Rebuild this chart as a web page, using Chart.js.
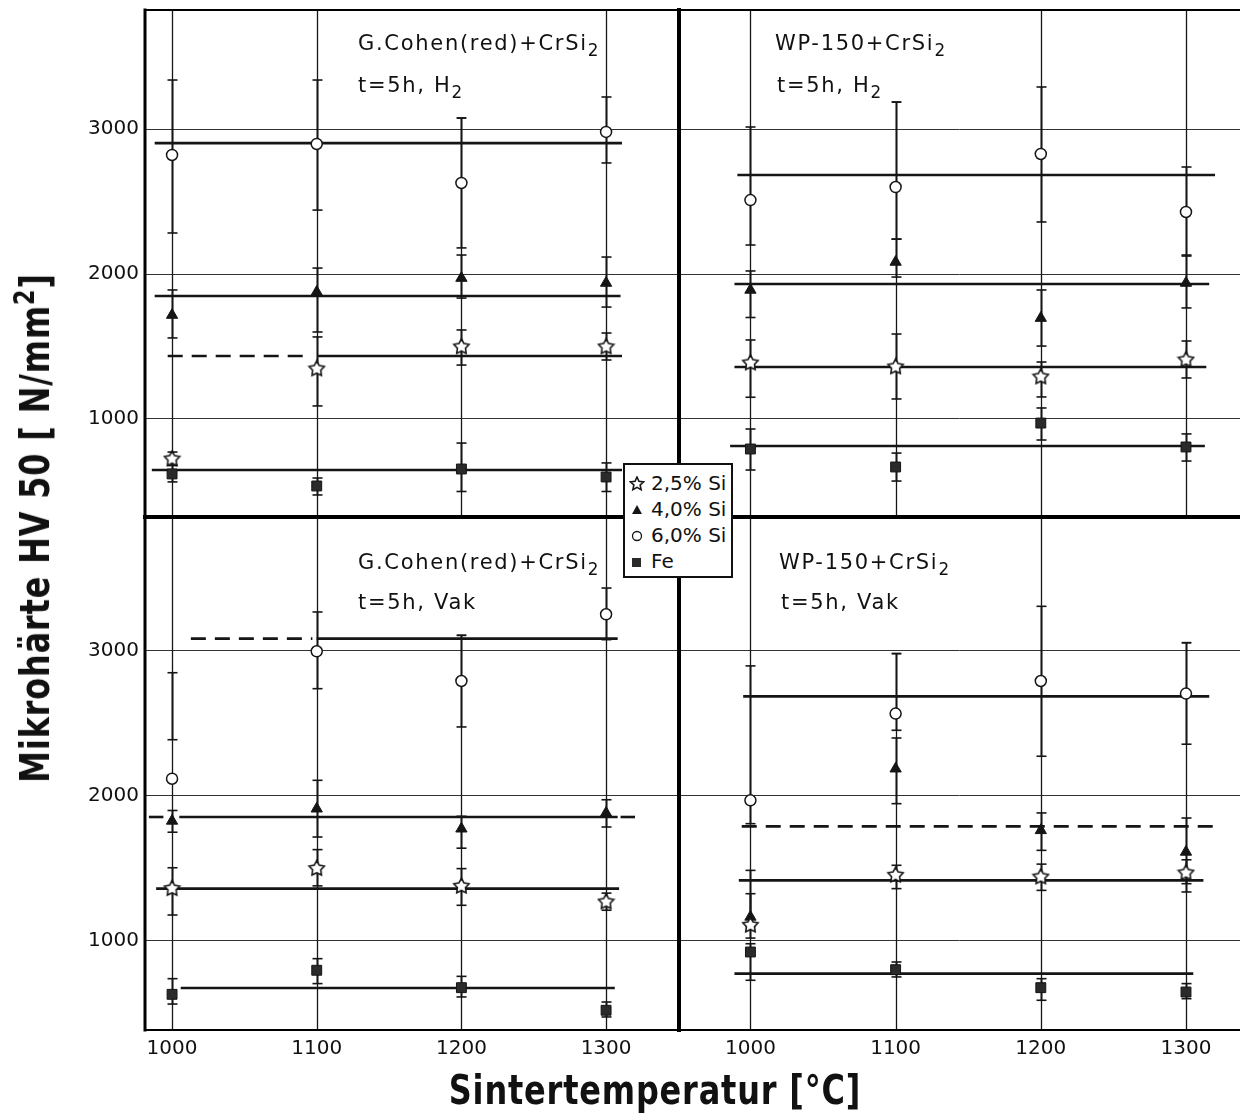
<!DOCTYPE html>
<html><head><meta charset="utf-8">
<script src="https://cdn.jsdelivr.net/npm/chart.js@4/dist/chart.umd.min.js"></script>
<style>
html,body{margin:0;padding:0;background:#fff;}
#wrap{position:relative;width:1240px;height:1120px;overflow:hidden;font-family:"DejaVu Sans",sans-serif;color:#111;}
canvas.pc{position:absolute;}
.lbl{position:absolute;font-size:21px;letter-spacing:1.7px;line-height:24px;white-space:nowrap;}
.lbl sub{font-size:0.8em;vertical-align:-0.35em;line-height:0;}
.title{position:absolute;font-weight:bold;white-space:nowrap;letter-spacing:1px;}
#legend{position:absolute;left:623px;top:463px;width:106px;height:111px;background:#fff;border:2px solid #111;}
.lrow{position:absolute;left:0;height:26px;font-size:20px;line-height:26px;white-space:nowrap;letter-spacing:0px;}
.lrow canvas{position:absolute;left:4px;top:6px;}
.lrow span{position:absolute;left:26px;top:0;}
</style></head>
<body><div id="wrap">
<canvas class="pc" id="cTL" width="679" height="517" style="left:0;top:0"></canvas>
<canvas class="pc" id="cTR" width="561" height="517" style="left:679px;top:0"></canvas>
<canvas class="pc" id="cBL" width="679" height="603" style="left:0;top:517px"></canvas>
<canvas class="pc" id="cBR" width="561" height="603" style="left:679px;top:517px"></canvas>

<div class="lbl" style="left:358px;top:31px">G.Cohen(red)+CrSi<sub>2</sub></div>
<div class="lbl" style="left:358px;top:73px">t=5h, H<sub>2</sub></div>
<div class="lbl" style="left:775px;top:31px">WP-150+CrSi<sub>2</sub></div>
<div class="lbl" style="left:777px;top:73px">t=5h, H<sub>2</sub></div>
<div class="lbl" style="left:358px;top:550px">G.Cohen(red)+CrSi<sub>2</sub></div>
<div class="lbl" style="left:358px;top:590px">t=5h, Vak</div>
<div class="lbl" style="left:779px;top:550px">WP-150+CrSi<sub>2</sub></div>
<div class="lbl" style="left:781px;top:590px">t=5h, Vak</div>

<div class="title" id="ytitle" style="left:35px;top:528px;font-size:40px;transform:translate(-50%,-50%) rotate(-90deg) scaleX(0.8)">Mikrohärte HV 50 [ N/mm<sup style="font-size:0.7em;vertical-align:0.55em;line-height:0">2</sup>]</div>
<div class="title" id="xtitle" style="left:655px;top:1090px;font-size:40px;transform:translate(-50%,-50%) scaleX(0.8)">Sintertemperatur [°C]</div>

<div id="legend"></div>
</div>
<script>
// ---------- data ----------
const temps = [1000, 1100, 1200, 1300];
const yTickValues = [1000, 2000, 3000];
const seriesNames = ['2,5% Si', '4,0% Si', '6,0% Si', 'Fe'];

// Top-left: G.Cohen(red)+CrSi2, t=5h, H2
const tlSi25 = [724, 1345, 1497, 1497];
const tlSi40 = [1717, 1876, 1972, 1938];
const tlSi60 = [2821, 2897, 2628, 2980];
const tlFe   = [621, 538, 655, 600];
const tlSi25Err = [[680, 772], [1090, 1566], [1372, 1614], [1407, 1593]];
const tlSi40Err = [[1559, 1890], [1600, 2041], [1834, 2131], [1772, 2117]];
const tlSi60Err = [[2283, 3338], [2441, 3338], [2180, 3076], [2766, 3221]];
const tlFeErr   = [[566, 680], [476, 593], [500, 834], [500, 697]];
const tlRange   = [[200, 4000], [200, 4000], [200, 3076], [200, 4000]];
const tlMeanLines = [[2903, 988, 1311, 'solid'], [1848, 988, 1310, 'solid'],
  [1434, 997, 1095, 'dashed'], [1434, 1101, 1311, 'solid'], [648, 986, 1311, 'solid']];

// Top-right: WP-150+CrSi2, t=5h, H2
const trSi25 = [1386, 1359, 1290, 1407];
const trSi40 = [1890, 2083, 1696, 1938];
const trSi60 = [2510, 2600, 2828, 2428];
const trFe   = [793, 669, 972, 807];
const trSi25Err = [[1150, 1545], [1138, 1586], [1152, 1393], [1283, 1538]];
const trSi40Err = [[1700, 2021], [1979, 2240], [1503, 1890], [1766, 2131]];
const trSi60Err = [[2200, 3014], [2241, 3186], [2359, 3290], [2124, 2738]];
const trFeErr   = [[648, 931], [572, 765], [855, 1076], [710, 897]];
const trRange   = [[200, 4000], [200, 3186], [200, 4000], [200, 4000]];
const trMeanLines = [[2683, 991, 1320, 'solid'], [1931, 989, 1316, 'solid'],
  [1359, 989, 1314, 'solid'], [814, 986, 1313, 'solid']];

// Bottom-left: G.Cohen(red)+CrSi2, t=5h, Vak
const blSi25 = [1361, 1499, 1377, 1269];
const blSi40 = [1828, 1912, 1774, 1883];
const blSi60 = [2119, 2998, 2793, 3253];
const blFe   = [632, 798, 678, 522];
const blSi25Err = [[1179, 1505], [1380, 1630], [1246, 1499], [1212, 1330]];
const blSi40Err = [[1750, 1900], [1717, 2108], [1640, 1860], [1786, 1974]];
const blSi60Err = [[2388, 2850], [2740, 3269], [2476, 3108], [3078, 3434]];
const blFeErr   = [[565, 740], [706, 878], [614, 756], [476, 579]];
const blRange   = [[300, 4000], [300, 4000], [300, 3108], [300, 4000]];
const blMeanLines = [[3085, 1013, 1097, 'dashed'], [3085, 1100, 1308, 'solid'],
  [1855, 984, 994, 'dashed'], [1855, 1005, 1308, 'solid'], [1855, 1310, 1320, 'dashed'],
  [1361, 989, 1309, 'solid'], [676, 1006, 1306, 'solid']];

// Bottom-right: WP-150+CrSi2, t=5h, Vak
const brSi25 = [1108, 1453, 1441, 1469];
const brSi40 = [1166, 2188, 1763, 1614];
const brSi60 = [1970, 2568, 2793, 2706];
const brFe   = [924, 802, 678, 648];
const brSi25Err = [[1020, 1487], [1361, 1522], [1349, 1530], [1338, 1560]];
const brSi40Err = [[1100, 1326], [1947, 2400], [1625, 1883], [1395, 1848]];
const brSi60Err = [[1809, 2897], [2453, 2982], [2274, 3308], [2357, 3057]];
const brFeErr   = [[729, 981], [752, 855], [591, 740], [602, 706]];
const brRange   = [[300, 4000], [300, 2982], [300, 4000], [300, 3057]];
const brMeanLines = [[2687, 995, 1316, 'solid'], [1790, 994, 1320, 'dashed'],
  [1418, 992, 1312, 'solid'], [775, 989, 1305, 'solid']];

// ---------- markers ----------
const INK = '#151515';
function drawStar(g, cx, cy, R, r) {
  g.beginPath();
  for (let i = 0; i < 10; i++) {
    const rad = i % 2 ? r : R, a = -Math.PI / 2 + i * Math.PI / 5;
    g.lineTo(cx + rad * Math.cos(a), cy + rad * Math.sin(a));
  }
  g.closePath(); g.fillStyle = '#fff'; g.fill();
  g.lineWidth = 1.6; g.strokeStyle = INK; g.stroke();
}
function starImage(size) {
  const c = document.createElement('canvas'); c.width = size; c.height = size;
  drawStar(c.getContext('2d'), size / 2, size / 2, size / 2 - 1.5, size / 4 - 0.5);
  return c;
}
const starImg = starImage(19);
const markerStyles = [
  { pointStyle: starImg, pointRadius: 9 },
  { pointStyle: 'triangle', pointRadius: 6.5, pointBackgroundColor: INK, pointBorderColor: INK, pointBorderWidth: 1 },
  { pointStyle: 'circle', pointRadius: 5.5, pointBackgroundColor: '#fff', pointBorderColor: INK, pointBorderWidth: 1.5 },
  { pointStyle: 'rect', pointRadius: 7, pointBackgroundColor: '#2a2a2a', pointBorderColor: INK, pointBorderWidth: 1 }
];

// ---------- plugins ----------
const errPlugin = {
  id: 'errbars',
  beforeDatasetsDraw(chart, args, opts) {
    const { ctx, chartArea: a, scales: { x, y } } = chart;
    ctx.save();
    ctx.beginPath(); ctx.rect(a.left, a.top, a.right - a.left, a.bottom - a.top); ctx.clip();
    ctx.strokeStyle = INK; ctx.lineCap = 'butt';
    const seg = (x1, y1, x2, y2) => { ctx.beginPath(); ctx.moveTo(x1, y1); ctx.lineTo(x2, y2); ctx.stroke(); };
    (opts.range || []).forEach((r, i) => {
      const px = Math.round(x.getPixelForValue(temps[i])) + 0.5;
      const y1 = y.getPixelForValue(r[0]), y2 = y.getPixelForValue(r[1]);
      ctx.lineWidth = 1.3; seg(px, y1, px, y2);
      ctx.lineWidth = 1.6; seg(px - 4.5, y1, px + 4.5, y1); seg(px - 4.5, y2, px + 4.5, y2);
    });
    chart.data.datasets.forEach(d => {
      if (!d.errors) return;
      d.errors.forEach((e, i) => {
        const px = Math.round(x.getPixelForValue(temps[i])) + 0.5;
        const y1 = y.getPixelForValue(e[0]), y2 = y.getPixelForValue(e[1]);
        ctx.lineWidth = 1.9; seg(px, y1, px, y2);
        ctx.lineWidth = 1.6; seg(px - 5, y1, px + 5, y1); seg(px - 5, y2, px + 5, y2);
      });
    });
    ctx.restore();
  }
};
const framePlugin = {
  id: 'frame',
  afterDraw(chart, args, o) {
    const { ctx, chartArea: a } = chart;
    ctx.save(); ctx.strokeStyle = '#000'; ctx.lineCap = 'square';
    const seg = (w, x1, y1, x2, y2) => { if (!w) return; ctx.lineWidth = w; ctx.beginPath(); ctx.moveTo(x1, y1); ctx.lineTo(x2, y2); ctx.stroke(); };
    seg(o.l, a.left, a.top, a.left, a.bottom);
    seg(o.r, a.right, a.top, a.right, a.bottom);
    seg(o.t, a.left, a.top, a.right, a.top);
    seg(o.b, a.left, a.bottom, a.right, a.bottom);
    ctx.restore();
  }
};

// ---------- panels ----------
function makePanel(id, p) {
  const datasets = [];
  p.means.forEach(m => datasets.push({
    type: 'line', data: [{ x: m[1], y: m[0] }, { x: m[2], y: m[0] }],
    borderColor: INK, borderWidth: 2.6, borderDash: m[3] === 'dashed' ? [15, 9] : [],
    pointRadius: 0, fill: false, order: 3
  }));
  p.series.forEach((s, k) => datasets.push(Object.assign({
    type: 'scatter', label: seriesNames[k],
    data: temps.map((t, i) => ({ x: t, y: s[0][i] })),
    errors: s[1], order: 1
  }, markerStyles[k])));
  const tickFont = { family: 'DejaVu Sans', size: 20 };
  new Chart(document.getElementById(id), {
    data: { datasets },
    options: {
      responsive: false, animation: false, events: [],
      layout: { padding: { top: p.padTop, left: 0, right: 0, bottom: 0 }, autoPadding: false },
      plugins: { legend: { display: false }, tooltip: { enabled: false }, errbars: { range: p.range }, frame: p.frame },
      scales: {
        x: {
          type: 'linear', position: 'bottom', min: p.xmin, max: p.xmax,
          grid: { display: false, drawTicks: false }, border: { display: false },
          ticks: { display: p.showX, font: tickFont, color: '#111', padding: 7, maxRotation: 0, callback: v => String(v) },
          afterBuildTicks: s => { s.ticks = temps.map(v => ({ value: v })); },
          afterFit: s => { s.height = p.xH; s.paddingLeft = 0; s.paddingRight = 0; s.paddingTop = 0; s.paddingBottom = 0; }
        },
        y: {
          type: 'linear', position: 'left', min: p.ymin, max: p.ymax,
          grid: { color: '#333', lineWidth: 1, drawTicks: false }, border: { display: false },
          ticks: { display: p.showY, font: tickFont, color: '#111', padding: 6, callback: v => String(v) },
          afterBuildTicks: s => { s.ticks = yTickValues.map(v => ({ value: v })); },
          afterFit: s => { s.width = p.yW; s.paddingTop = 0; s.paddingBottom = 0; s.paddingLeft = 0; s.paddingRight = 0; }
        }
      }
    },
    plugins: [errPlugin, framePlugin]
  });
}

makePanel('cTL', {
  series: [[tlSi25, tlSi25Err], [tlSi40, tlSi40Err], [tlSi60, tlSi60Err], [tlFe, tlFeErr]],
  range: tlRange, means: tlMeanLines,
  xmin: 981.3, xmax: 1350.4, ymin: 324, ymax: 3821, padTop: 10, xH: 0, yW: 145,
  showX: false, showY: true, frame: { l: 3, t: 2, r: 4, b: 4 }
});
makePanel('cTR', {
  series: [[trSi25, trSi25Err], [trSi40, trSi40Err], [trSi60, trSi60Err], [trFe, trFeErr]],
  range: trRange, means: trMeanLines,
  xmin: 950.8, xmax: 1337.2, ymin: 324, ymax: 3821, padTop: 10, xH: 0, yW: 0,
  showX: false, showY: false, frame: { l: 4, t: 2, r: 0, b: 4 }
});
makePanel('cBL', {
  series: [[blSi25, blSi25Err], [blSi40, blSi40Err], [blSi60, blSi60Err], [blFe, blFeErr]],
  range: blRange, means: blMeanLines,
  xmin: 981.3, xmax: 1350.4, ymin: 386, ymax: 3924, padTop: 0, xH: 90, yW: 145,
  showX: true, showY: true, frame: { l: 3, t: 4, r: 4, b: 2 }
});
makePanel('cBR', {
  series: [[brSi25, brSi25Err], [brSi40, brSi40Err], [brSi60, brSi60Err], [brFe, brFeErr]],
  range: brRange, means: brMeanLines,
  xmin: 950.8, xmax: 1337.2, ymin: 386, ymax: 3924, padTop: 0, xH: 90, yW: 0,
  showX: true, showY: false, frame: { l: 4, t: 4, r: 0, b: 2 }
});

// ---------- legend ----------
const legend = document.getElementById('legend');
seriesNames.forEach((name, k) => {
  const row = document.createElement('div'); row.className = 'lrow'; row.style.top = (5 + k * 26) + 'px';
  const c = document.createElement('canvas'); c.width = 16; c.height = 16;
  const g = c.getContext('2d');
  if (k === 0) drawStar(g, 8, 8, 7, 3.3);
  else if (k === 1) { g.beginPath(); g.moveTo(8, 3); g.lineTo(13, 12); g.lineTo(3, 12); g.closePath(); g.fillStyle = INK; g.fill(); }
  else if (k === 2) { g.beginPath(); g.arc(8, 8, 4.5, 0, Math.PI * 2); g.lineWidth = 1.3; g.strokeStyle = INK; g.stroke(); }
  else { g.fillStyle = '#2a2a2a'; g.fillRect(3, 4, 9, 9); }
  const s = document.createElement('span'); s.textContent = name;
  row.appendChild(c); row.appendChild(s); legend.appendChild(row);
});
</script>
</body></html>
